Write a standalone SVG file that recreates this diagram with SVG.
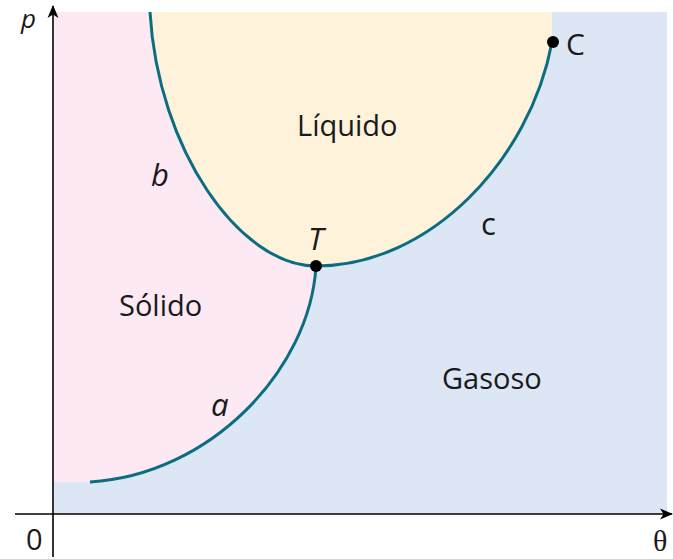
<svg xmlns="http://www.w3.org/2000/svg" width="673" height="559" viewBox="0 0 673 559">
<defs>
<style>
.curve{fill:none;stroke:#0b6e80;stroke-width:3;stroke-linecap:butt}
.axis{fill:none;stroke:#000;stroke-width:1.6}
.lbl{font-family:"Open Sans","Noto Sans",sans-serif;font-size:29px;fill:#1a1a1a}
.it{font-family:"Open Sans","Noto Sans",sans-serif;font-style:italic;font-size:31px;fill:#1a1a1a}
.dot{fill:#000}
</style>
<marker id="arr" markerWidth="14" markerHeight="14" refX="12" refY="7" orient="auto" markerUnits="userSpaceOnUse">
<path d="M0,1.5 L13,7 L0,12.5 L3.5,7 Z" fill="#000"/>
</marker>
</defs>
<g id="regions">
<rect id="gasoso-region" x="54" y="12" width="613" height="502" fill="#dce6f5"/>
<path id="solido-region" d="M54,12 L150,12 C158,150 240,266 316,266 C310,370 210,475 90,482 L54,482 Z" fill="#fce9f3"/>
<path id="liquido-region" d="M150,12 C158,150 240,266 316,266 C430,266 530,160 552,42 L552,12 Z" fill="#fef3da"/>
</g>
<g id="axes">
<line class="axis" x1="53" y1="557" x2="53" y2="6" marker-end="url(#arr)"/>
<line class="axis" x1="15" y1="514" x2="672" y2="514" marker-end="url(#arr)"/>
</g>
<g id="connectors">
<path id="curve-b" class="curve" d="M150,12 C158,150 240,266 316,266"/>
<path id="curve-c" class="curve" d="M316,266 C430,266 530,160 552,42"/>
<path id="curve-a" class="curve" d="M316,266 C310,370 210,475 90,482"/>
</g>
<g id="point-T"><circle class="dot" cx="316" cy="266" r="6"/><text class="it" x="308" y="250">T</text></g>
<g id="point-C"><circle class="dot" cx="553" cy="42" r="6"/><text class="lbl" x="566" y="55" style="font-size:30px">C</text></g>
<g id="labels">
<text class="lbl" x="119" y="316">Sólido</text>
<text class="lbl" x="297" y="136">Líquido</text>
<text class="lbl" x="442" y="389">Gasoso</text>
<text class="it" x="151" y="186">b</text>
<text class="it" x="211" y="416">a</text>
<text class="lbl" x="481" y="235" style="font-size:31px">c</text>
<text class="it" x="21" y="28" style="font-size:26px">p</text>
<text class="lbl" x="26" y="550" style="font-size:29px">0</text>
<text x="653" y="551" style="font-family:'Liberation Serif',serif;font-size:30px;fill:#1a1a1a">θ</text>
</g>
</svg>
